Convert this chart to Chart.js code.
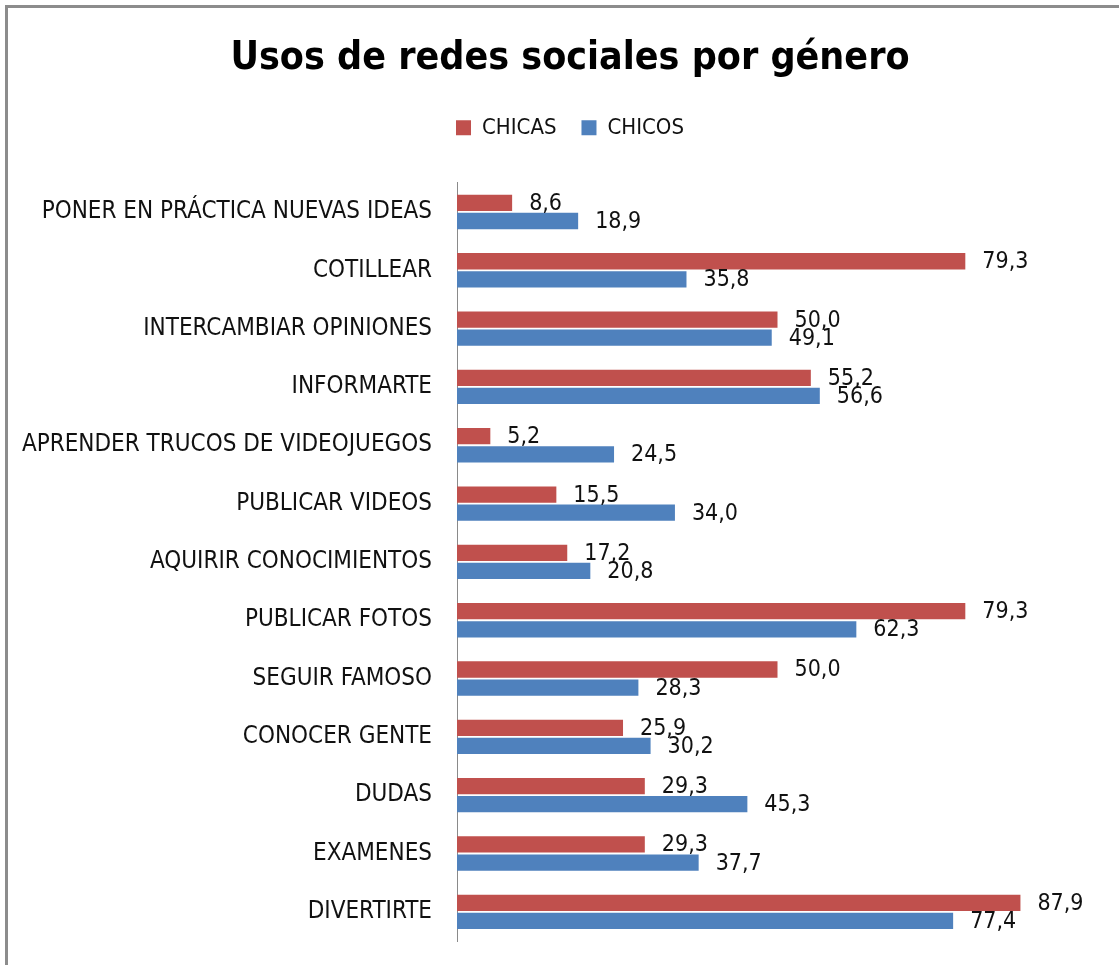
<!DOCTYPE html>
<html>
<head>
<meta charset="utf-8">
<script src="https://cdn.jsdelivr.net/npm/chart.js@4.4.1/dist/chart.umd.min.js"></script>
<style>
  html, body { margin: 0; padding: 0; background: #fff; overflow: hidden; }
  #frame { position: absolute; left: 5px; top: 5px; width: 1300px; height: 1100px; border: 3px solid #8c8c8c; }
  #chart { position: absolute; left: 0; top: 0; }
</style>
</head>
<body>
<div id="frame"></div>
<canvas id="chart" width="1119" height="965"></canvas>
<script>
const categories = [
  'PONER EN PRÁCTICA NUEVAS IDEAS', 'COTILLEAR', 'INTERCAMBIAR OPINIONES', 'INFORMARTE',
  'APRENDER TRUCOS DE VIDEOJUEGOS', 'PUBLICAR VIDEOS', 'AQUIRIR CONOCIMIENTOS', 'PUBLICAR FOTOS',
  'SEGUIR FAMOSO', 'CONOCER GENTE', 'DUDAS', 'EXAMENES', 'DIVERTIRTE'
];
const chicas = [8.6, 79.3, 50.0, 55.2, 5.2, 15.5, 17.2, 79.3, 50.0, 25.9, 29.3, 29.3, 87.9];
const chicos = [18.9, 35.8, 49.1, 56.6, 24.5, 34.0, 20.8, 62.3, 28.3, 30.2, 45.3, 37.7, 77.4];

const FONT = '"Liberation Sans Narrow", "DejaVu Sans Condensed", "Liberation Sans", sans-serif';

// value labels to the right of each bar, with a decimal comma
const valueLabels = {
  id: 'valueLabels',
  afterDatasetsDraw(chart) {
    const ctx = chart.ctx;
    ctx.save();
    ctx.font = '23px ' + FONT;
    ctx.fillStyle = '#111';
    ctx.textAlign = 'left';
    ctx.textBaseline = 'middle';
    chart.data.datasets.forEach((ds, i) => {
      chart.getDatasetMeta(i).data.forEach((bar, j) => {
        const txt = ds.data[j].toFixed(1).replace('.', ',');
        ctx.fillText(txt, bar.x + 17, bar.y + 1);
      });
    });
    ctx.restore();
  }
};

// title and legend sit a bit right of the canvas centre in the original
const shiftHeader = {
  id: 'shiftHeader',
  afterLayout(chart) {
    if (chart.titleBlock) chart.titleBlock.left = 42;
    if (chart.legend) chart.legend.left = 42;
  }
};

new Chart(document.getElementById('chart'), {
  type: 'bar',
  data: {
    labels: categories,
    datasets: [
      { label: 'CHICAS', data: chicas, backgroundColor: '#C0504D', categoryPercentage: 0.62, barPercentage: 0.9 },
      { label: 'CHICOS', data: chicos, backgroundColor: '#4F81BD', categoryPercentage: 0.62, barPercentage: 0.9 }
    ]
  },
  options: {
    indexAxis: 'y',
    responsive: false,
    animation: false,
    devicePixelRatio: 1,
    layout: { padding: { top: 35, right: 21, bottom: 24, left: 0 } },
    plugins: {
      title: {
        display: true,
        text: 'Usos de redes sociales por género',
        color: '#000',
        font: { family: FONT, size: 39, weight: 'bold' },
        padding: { top: 0, bottom: 10 }
      },
      legend: {
        display: true,
        labels: {
          color: '#111',
          font: { family: FONT, size: 22 },
          boxWidth: 15,
          boxHeight: 15,
          padding: 25
        }
      },
      tooltip: { enabled: false }
    },
    scales: {
      x: {
        position: 'top',
        min: 0,
        max: 100,
        grid: { display: false },
        border: { display: false },
        ticks: { display: false },
        afterFit(scale) { scale.height = 34; }
      },
      y: {
        grid: { display: false },
        border: { display: true, color: '#8a8a8a', width: 1 },
        ticks: {
          color: '#111',
          padding: 17,
          font: { family: FONT, size: 24 }
        },
        afterFit(scale) {
          scale.width = 457;
          scale.paddingTop = 0;
          scale.paddingBottom = 0;
        }
      }
    }
  },
  plugins: [valueLabels, shiftHeader]
});
</script>
</body>
</html>
